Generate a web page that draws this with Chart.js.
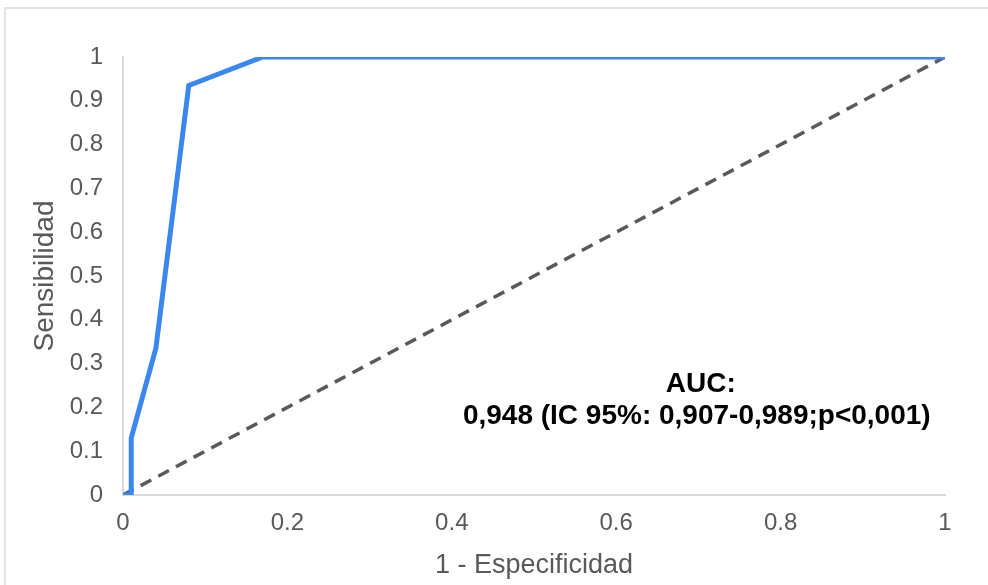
<!DOCTYPE html>
<html>
<head>
<meta charset="utf-8">
<script src="https://cdn.jsdelivr.net/npm/chart.js@4"></script>
<style>
  html, body { margin: 0; padding: 0; background: #fff; overflow: hidden; }
  #frame { position: absolute; left: 4px; top: 7px; width: 1100px; height: 700px; border: 2px solid #e3e3e3; box-sizing: border-box; }
  #wrap { position: absolute; left: 0; top: 0; width: 988px; height: 585px; }
</style>
</head>
<body>
<div id="frame"></div>
<div id="wrap"><canvas id="c" width="988" height="585"></canvas></div>
<script>
// ROC curve points (1 - specificity, sensitivity)
const rocX = [0, 0.01, 0.01, 0.04, 0.08, 0.17, 1];
const rocY = [0, 0, 0.13, 0.335, 0.935, 1, 1];
// Reference diagonal
const diagX = [0, 1];
const diagY = [0, 1];
const xTitle = '1 - Especificidad';
const yTitle = 'Sensibilidad';
const annotLines = ['AUC:', '0,948 (IC 95%: 0,907-0,989;p<0,001)'];
const annotAnchor = [0.698, 0.18]; // data coords for second annotation line centre

const rocData = rocX.map((x, i) => ({ x: x, y: rocY[i] }));
const diagData = diagX.map((x, i) => ({ x: x, y: diagY[i] }));
const FONT = '"Liberation Sans", Arial, sans-serif';

const annotPlugin = {
  id: 'annot',
  afterDatasetsDraw(chart) {
    const ctx = chart.ctx;
    const xs = chart.scales.x, ys = chart.scales.y;
    const cx = xs.getPixelForValue(annotAnchor[0]);
    const cy = ys.getPixelForValue(annotAnchor[1]);
    ctx.save();
    ctx.fillStyle = '#000';
    ctx.font = 'bold 28px ' + FONT;
    ctx.textAlign = 'center';
    ctx.textBaseline = 'middle';
    ctx.fillText(annotLines[0], cx + 4, cy - 32);
    ctx.fillText(annotLines[1], cx, cy);
    ctx.restore();
  }
};

new Chart(document.getElementById('c'), {
  type: 'scatter',
  data: {
    datasets: [
      {
        data: diagData,
        showLine: true,
        borderColor: '#595959',
        borderWidth: 3.5,
        borderDash: [12, 8],
        pointRadius: 0,
        fill: false,
        order: 2
      },
      {
        data: rocData,
        showLine: true,
        borderColor: '#3a87f0',
        borderWidth: 5,
        pointRadius: 0,
        fill: false,
        tension: 0,
        order: 1
      }
    ]
  },
  options: {
    responsive: false,
    animation: false,
    devicePixelRatio: 1,
    layout: { padding: { left: 10, right: 43, top: 57, bottom: 2 } },
    plugins: { legend: { display: false }, tooltip: { enabled: false } },
    scales: {
      x: {
        type: 'linear', min: 0, max: 1,
        border: { display: true, color: '#d9d9d9', width: 2 },
        grid: { display: false, drawTicks: false },
        ticks: {
          stepSize: 0.2, padding: 14, color: '#595959',
          font: { family: FONT, size: 24 },
          callback: v => String(Math.round(v * 10) / 10)
        },
        title: {
          display: true, text: xTitle, color: '#595959',
          font: { family: FONT, size: 27 },
          padding: { top: 0, bottom: 1 }
        },
        afterFit(scale) { scale.height = 88; }
      },
      y: {
        type: 'linear', min: 0, max: 1,
        border: { display: true, color: '#d9d9d9', width: 2 },
        grid: { display: false, drawTicks: false },
        ticks: {
          stepSize: 0.1, padding: 20, color: '#595959',
          font: { family: FONT, size: 24 },
          callback: v => String(Math.round(v * 10) / 10)
        },
        title: {
          display: true, text: yTitle, color: '#595959',
          font: { family: FONT, size: 28 },
          padding: { top: 18, bottom: 0 }
        },
        afterFit(scale) { scale.width = 113; }
      }
    }
  },
  plugins: [annotPlugin]
});
</script>
</body>
</html>
